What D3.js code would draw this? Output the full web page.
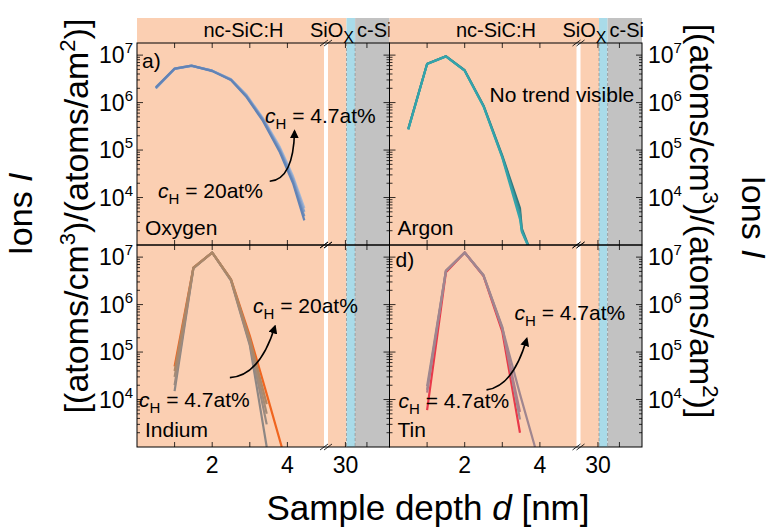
<!DOCTYPE html>
<html>
<head>
<meta charset="utf-8">
<script src="https://cdn.jsdelivr.net/npm/d3@7"></script>
<style>
  body { margin: 0; background: #fff; }
  text { font-family: "Liberation Sans", Arial, sans-serif; fill: #000; }
</style>
</head>
<body>
<svg id="chart" width="774" height="529"></svg>
<script>
// depth in nm, ion signal in (atoms/cm3)/(atoms/am2)
var depthO = [0.5, 1.0, 1.45, 2.0, 2.5, 2.9, 3.35, 3.8, 4.15, 4.45];
var oxygen = [
  [2.0e6, 5.1e6, 5.9e6, 4.7e6, 3.1e6, 1.5e6, 4.7e5, 1.15e5, 2.8e4, 6.0e3],
  [2.0e6, 5.1e6, 5.9e6, 4.7e6, 3.1e6, 1.45e6, 4.5e5, 1.05e5, 2.5e4, 5.0e3],
  [2.0e6, 5.2e6, 6.0e6, 4.7e6, 3.0e6, 1.4e6, 4.3e5, 9.7e4, 2.2e4, 4.0e3],
  [2.1e6, 5.2e6, 6.0e6, 4.6e6, 3.0e6, 1.35e6, 4.1e5, 9.0e4, 2.0e4, 3.3e3]
];
var depthAr = [0.5, 1.0, 1.5, 2.0, 2.5, 3.0, 3.47, 3.52, 3.8];
var argon = [
  [2.8e5, 6.6e6, 9.5e6, 4.8e6, 8.7e5, 7.6e4, 6.0e3, 2.2e3, 6e2],
  [2.8e5, 6.5e6, 9.4e6, 4.7e6, 8.5e5, 7.2e4, 4.6e3, 2.0e3, 6e2],
  [2.7e5, 6.5e6, 9.4e6, 4.7e6, 8.3e5, 6.9e4, 3.5e3, 1.9e3, 6e2]
];
var depthIn = [1.0, 1.5, 2.0, 2.5, 3.0, 3.45, 3.85];
var indium = [
  [5.0e4, 6.0e6, 1.25e7, 3.4e6, 2.2e5, 1.3e4, 1.0e3],
  [1.5e4, 5.8e6, 1.25e7, 3.2e6, 1.4e5, 1.0e3, null],
  [2.0e4, 5.9e6, 1.25e7, 3.3e6, 1.5e5, 3.0e3, null],
  [3.0e4, 5.9e6, 1.25e7, 3.3e6, 1.7e5, 5.0e3, null],
  [4.0e4, 6.0e6, 1.25e7, 3.4e6, 1.9e5, 8.0e3, null]
];
var depthSn = [1.0, 1.5, 2.0, 2.5, 3.0, 3.47, 3.87];
var tin = [
  [6.0e3, 4.8e6, 1.25e7, 4.0e6, 2.7e5, 2.0e3, null],
  [1.9e4, 5.2e6, 1.25e7, 4.2e6, 3.4e5, 3.8e3, null],
  [1.4e4, 5.1e6, 1.25e7, 4.1e6, 3.1e5, 5.5e3, null],
  [1.6e4, 5.1e6, 1.25e7, 4.1e6, 3.2e5, 1.3e4, 1.0e3]
];

var oxygenColors = ["#a3b6d4", "#88a2ca", "#7292c0", "#6283b5"];
var argonColors = ["#2c787f", "#3a8f96", "#33a4ab"];
var indiumColors = ["#f0651f", "#8e8784", "#9a8a80", "#a48b77", "#ad8766"];
var tinColors = ["#e8394a", "#9c8c92", "#b07d8a", "#a0868f"];

// layer stack (depth boundaries in nm)
var layerNames = ["nc-SiC:H", "SiOx", "c-Si"];
var layerBounds = [0, 30.05, 30.45, 32.05];
var layerFill = ["#fbcfb2", "#a9dbe9", "#c2c2c2"];

var xMainTicks = [1, 2, 3, 4], xTailTicks = [30, 31], xLabelTicks = [2, 4, 30];
var yMajor = [1e4, 1e5, 1e6, 1e7];

// arrows: [start, control, end] as [depth, signal]
var arrowA = [[3.53, 2.2e4], [4.16, 2.4e4], [4.19, 2.5e5]];
var arrowC = [[2.47, 2.9e4], [3.27, 3.2e4], [3.67, 3.5e5]];
var arrowD = [[2.58, 1.6e4], [3.29, 1.9e4], [3.65, 1.9e5]];

var svg = d3.select("#chart");
var colX = [137, 389.5], panelW = 252.5;
var bandTop = 18, rowY = [43, 245], rowH = 202;
var breakX = 188;

var xMain = d3.scaleLinear().domain([0, 5]).range([0, breakX]);
var xTail = d3.scaleLinear().domain([29.05, 32.05]).range([breakX, panelW]);
var y = d3.scaleLog().domain([1e3, 1.8e7]).range([rowH, 0]);
function xpos(v) { return v <= 5 ? xMain(v) : xTail(v); }

var defs = svg.append("defs");
defs.append("marker").attr("id", "head")
    .attr("viewBox", "0 0 10 10").attr("refX", 8).attr("refY", 5)
    .attr("markerWidth", 9).attr("markerHeight", 9).attr("markerUnits", "userSpaceOnUse")
    .attr("orient", "auto")
  .append("path").attr("d", "M0,0L10,5L0,10z").attr("fill", "#000");
defs.append("clipPath").attr("id", "plotclip")
  .append("rect").attr("x", 0).attr("y", 0).attr("width", breakX).attr("height", rowH);

// background layers + band labels per column
colX.forEach(function(cx) {
  var g = svg.append("g").attr("transform", "translate(" + cx + ",0)");
  g.selectAll("rect.layer").data(layerNames).enter().append("rect")
      .attr("x", function(d, i) { return xpos(layerBounds[i]); })
      .attr("width", function(d, i) { return xpos(layerBounds[i + 1]) - xpos(layerBounds[i]); })
      .attr("y", bandTop).attr("height", rowY[1] + rowH - bandTop)
      .attr("fill", function(d, i) { return layerFill[i]; });
  // white gap of the broken axis
  g.append("rect").attr("x", breakX - 1).attr("width", 4)
      .attr("y", rowY[0]).attr("height", 2 * rowH).attr("fill", "#fff");
  // dashed interface lines
  [layerBounds[1], layerBounds[2]].forEach(function(b) {
    g.append("line").attr("x1", xpos(b)).attr("x2", xpos(b))
        .attr("y1", rowY[0]).attr("y2", rowY[1] + rowH)
        .attr("stroke", "#8a8a8a").attr("stroke-width", 0.7).attr("stroke-dasharray", "3,2");
  });
  var lab = g.append("g").attr("font-size", 20);
  lab.append("text").attr("x", xMain(2.83)).attr("y", 37).attr("text-anchor", "middle").text("nc-SiC:H");
  var s = lab.append("text").attr("x", 173).attr("y", 37);
  s.append("tspan").text("SiO");
  s.append("tspan").attr("dy", 6).attr("font-size", 16).text("X");
  lab.append("text").attr("x", 220).attr("y", 37).text("c-Si");
});

var panels = [
  {col: 0, row: 0, depth: depthO, series: oxygen, colors: oxygenColors, name: "Oxygen"},
  {col: 1, row: 0, depth: depthAr, series: argon, colors: argonColors, name: "Argon"},
  {col: 0, row: 1, depth: depthIn, series: indium, colors: indiumColors, name: "Indium"},
  {col: 1, row: 1, depth: depthSn, series: tin, colors: tinColors, name: "Tin"}
];

function cH(g, x, yy, rest) {
  var t = g.append("text").attr("x", x).attr("y", yy).attr("font-size", 21);
  t.append("tspan").attr("font-style", "italic").text("c");
  t.append("tspan").attr("font-size", 15).attr("dy", 6).text("H");
  t.append("tspan").attr("dy", -6).text(" = " + rest);
}
function arrow(g, pts) {
  var p = d3.path();
  p.moveTo(xMain(pts[0][0]), y(pts[0][1]));
  p.quadraticCurveTo(xMain(pts[1][0]), y(pts[1][1]), xMain(pts[2][0]), y(pts[2][1]));
  g.append("path").attr("d", p.toString()).attr("fill", "none")
      .attr("stroke", "#000").attr("stroke-width", 1.6).attr("marker-end", "url(#head)");
}

panels.forEach(function(p) {
  var g = svg.append("g").attr("transform", "translate(" + colX[p.col] + "," + rowY[p.row] + ")");
  var line = d3.line()
      .defined(function(v) { return v != null; })
      .x(function(v, i) { return xMain(p.depth[i]); })
      .y(function(v) { return y(v); });
  g.append("g").attr("clip-path", "url(#plotclip)")
    .selectAll("path").data(p.series).enter().append("path")
      .attr("d", line).attr("fill", "none")
      .attr("stroke", function(d, i) { return p.colors[i]; })
      .attr("stroke-width", 2.2).attr("stroke-linejoin", "round");

  g.append("rect").attr("width", panelW).attr("height", rowH)
      .attr("fill", "none").attr("stroke", "#000").attr("stroke-width", 1);

  // y ticks (inward on both sides)
  var minors = [];
  for (var k = 3; k <= 7; k++) for (var m = 2; m <= 9; m++) {
    var v = m * Math.pow(10, k);
    if (v < 1.8e7) minors.push(v);
  }
  var yt = g.append("g").attr("stroke", "#000").attr("stroke-width", 0.8);
  yMajor.forEach(function(v) {
    yt.append("line").attr("x1", 0).attr("x2", 6).attr("y1", y(v)).attr("y2", y(v));
    yt.append("line").attr("x1", panelW).attr("x2", panelW - 6).attr("y1", y(v)).attr("y2", y(v));
  });
  minors.forEach(function(v) {
    yt.append("line").attr("x1", 0).attr("x2", 3).attr("y1", y(v)).attr("y2", y(v));
    yt.append("line").attr("x1", panelW).attr("x2", panelW - 3).attr("y1", y(v)).attr("y2", y(v));
  });
  // x ticks top and bottom
  var xt = xMainTicks.map(xMain).concat(xTailTicks.map(xTail));
  xt.forEach(function(x) {
    yt.append("line").attr("x1", x).attr("x2", x).attr("y1", 0).attr("y2", 5);
    yt.append("line").attr("x1", x).attr("x2", x).attr("y1", rowH).attr("y2", rowH - 5);
  });
  // break marks
  [0, rowH].forEach(function(yy) {
    [0, 4].forEach(function(o) {
      g.append("line").attr("x1", breakX - 5 + o).attr("y1", yy + 3)
          .attr("x2", breakX + 3 + o).attr("y2", yy - 3)
          .attr("stroke", "#000").attr("stroke-width", 0.8);
    });
  });

  // y tick labels
  var lg = g.append("g").attr("font-size", 23);
  yMajor.forEach(function(v) {
    var t = lg.append("text")
        .attr("x", p.col === 0 ? -4 : panelW + 6)
        .attr("y", y(v) + 8)
        .attr("text-anchor", p.col === 0 ? "end" : "start");
    t.append("tspan").text("10");
    t.append("tspan").attr("font-size", 15).attr("dy", -10).text(Math.round(Math.log10(v)));
  });
  if (p.row === 1) {
    xLabelTicks.forEach(function(v) {
      lg.append("text").attr("x", xpos(v)).attr("y", rowH + 26)
          .attr("text-anchor", "middle").text(v);
    });
  }

  g.append("text").attr("x", 8).attr("y", 192).attr("font-size", 21).text(p.name);
});

// panel annotations
var ga = svg.append("g").attr("transform", "translate(" + colX[0] + "," + rowY[0] + ")");
ga.append("text").attr("x", 5).attr("y", 25).attr("font-size", 21).text("a)");
cH(ga, 128, 80, "4.7at%");
cH(ga, 21, 155, "20at%");
arrow(ga, arrowA);

var gb = svg.append("g").attr("transform", "translate(" + colX[1] + "," + rowY[0] + ")");
gb.append("text").attr("x", 100).attr("y", 59).attr("font-size", 21).text("No trend visible");

var gc = svg.append("g").attr("transform", "translate(" + colX[0] + "," + rowY[1] + ")");
cH(gc, 116, 68, "20at%");
cH(gc, 2, 162, "4.7at%");
arrow(gc, arrowC);

var gd = svg.append("g").attr("transform", "translate(" + colX[1] + "," + rowY[1] + ")");
gd.append("text").attr("x", 6).attr("y", 22).attr("font-size", 21).text("d)");
cH(gd, 125, 75, "4.7at%");
cH(gd, 9, 163, "4.7at%");
arrow(gd, arrowD);

// axis titles
var xt = svg.append("text").attr("x", 428).attr("y", 520).attr("font-size", 35).attr("text-anchor", "middle");
xt.append("tspan").text("Sample depth ");
xt.append("tspan").attr("font-style", "italic").text("d");
xt.append("tspan").text(" [nm]");

function ionsTitle(x, yy, rot) {
  var t = svg.append("text").attr("transform", "translate(" + x + "," + yy + ") rotate(" + rot + ")")
      .attr("font-size", 34).attr("text-anchor", "middle");
  t.append("tspan").text("Ions ");
  t.append("tspan").attr("font-style", "italic").text("I");
}
function unitTitle(x, yy, rot) {
  var t = svg.append("text").attr("transform", "translate(" + x + "," + yy + ") rotate(" + rot + ")")
      .attr("font-size", 34).attr("text-anchor", "middle");
  t.append("tspan").text("[(atoms/cm");
  t.append("tspan").attr("font-size", 22).attr("dy", -13).text("3");
  t.append("tspan").attr("dy", 13).text(")/(atoms/am");
  t.append("tspan").attr("font-size", 22).attr("dy", -13).text("2");
  t.append("tspan").attr("dy", 13).text(")]");
}
ionsTitle(32, 214, -90);
unitTitle(88, 216, -90);
unitTitle(690, 221, 90);
ionsTitle(742, 217, 90);
</script>
</body>
</html>
